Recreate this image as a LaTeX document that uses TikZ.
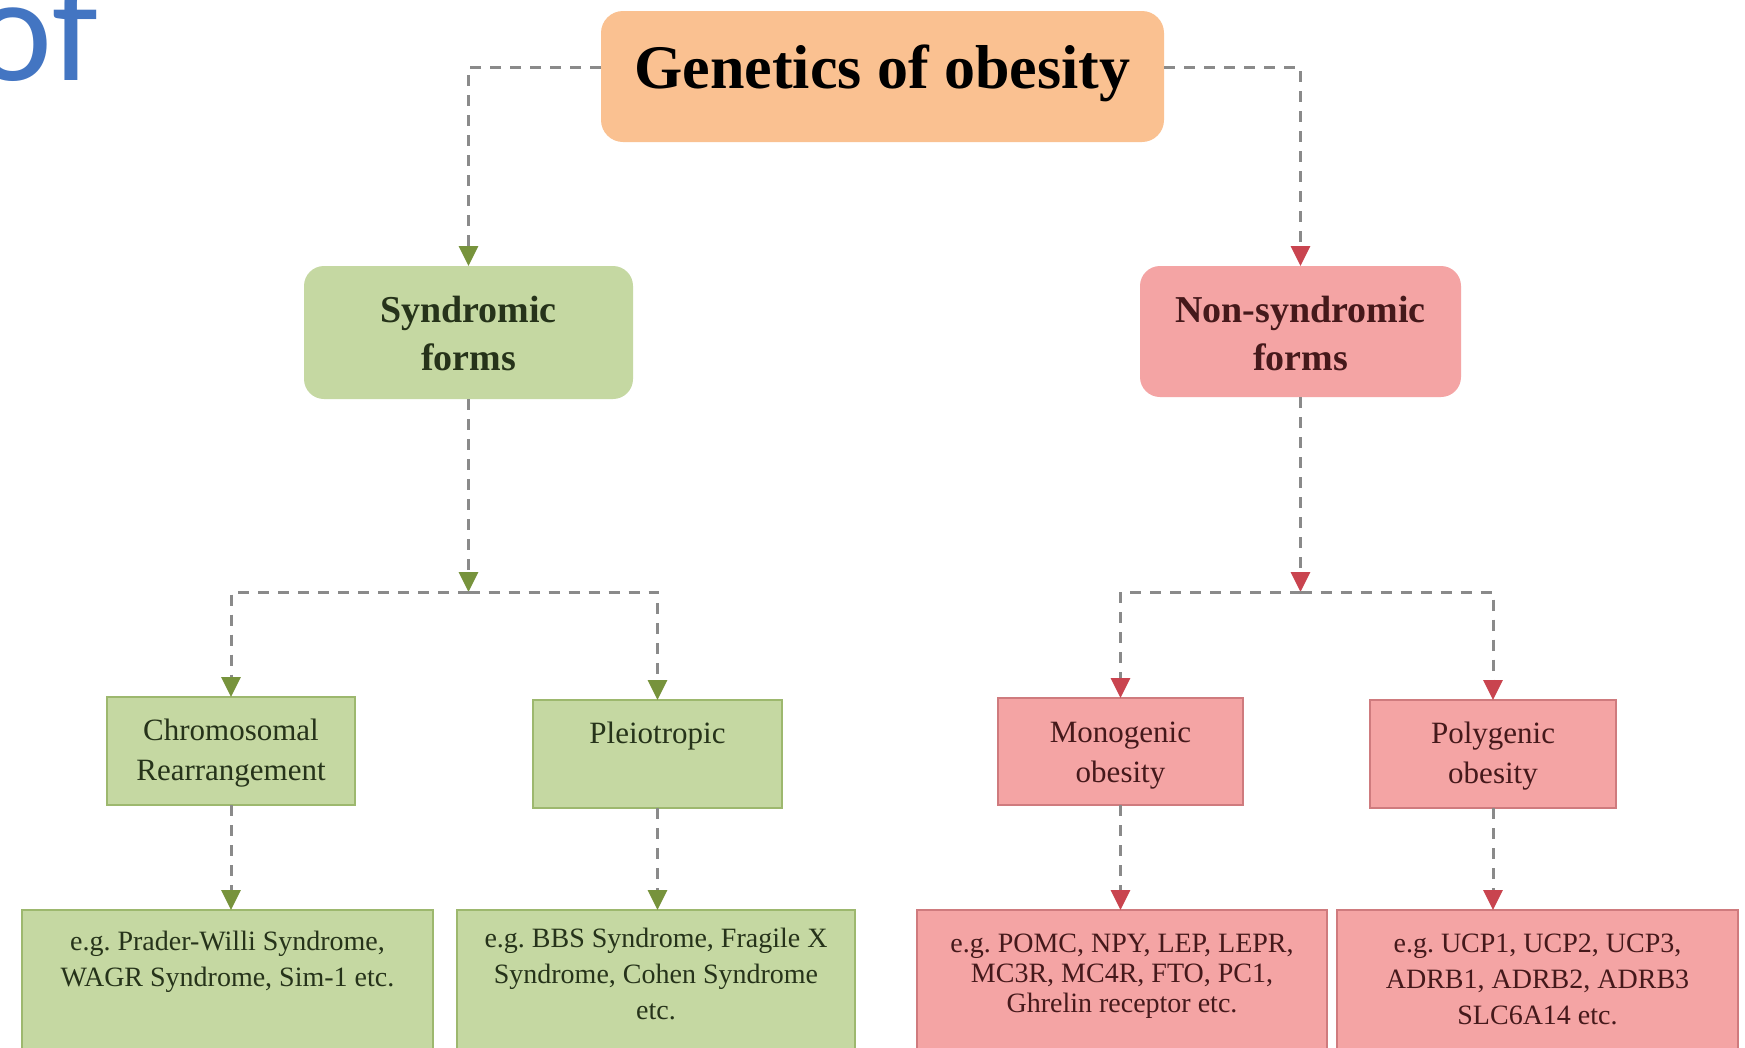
\documentclass[tikz,border=0pt]{standalone}
\usepackage{fontspec}
\setmainfont{Liberation Serif}
\newfontfamily\slidefont{Carlito}
\usetikzlibrary{arrows.meta}
\definecolor{peach}{HTML}{FAC191}
\definecolor{gfill}{HTML}{C5D8A2}
\definecolor{gline}{HTML}{9DB86E}
\definecolor{rfill}{HTML}{F4A4A4}
\definecolor{rline}{HTML}{CF7B7E}
\definecolor{ghead}{HTML}{77933C}
\definecolor{rhead}{HTML}{C9444F}
\definecolor{dgray}{HTML}{8A8A8A}
\definecolor{gtext}{HTML}{26331A}
\definecolor{rtext}{HTML}{45191B}
\definecolor{slideblue}{HTML}{4375C2}
\newcommand{\bxt}[4]{\parbox[t][#2][t]{#1}{\centering\rule{0pt}{#3}#4}}
\frenchspacing
\begin{document}
\begin{tikzpicture}[x=1pt,y=-1pt,
  every node/.style={inner sep=0pt, outer sep=0pt},
  titlebox/.style={fill=peach, rounded corners=22pt, anchor=north west, font=\bfseries\fontsize{62}{66}\selectfont, text=black},
  gr/.style={fill=gfill, rounded corners=20pt, anchor=north west, font=\bfseries\fontsize{38}{48}\selectfont, text=gtext},
  rr/.style={fill=rfill, rounded corners=20pt, anchor=north west, font=\bfseries\fontsize{38}{48}\selectfont, text=rtext},
  gs/.style={fill=gfill, draw=gline, line width=2pt, anchor=north west, font=\fontsize{31}{40}\selectfont, text=gtext},
  rs/.style={fill=rfill, draw=rline, line width=2pt, anchor=north west, font=\fontsize{31}{40}\selectfont, text=rtext},
  gb/.style={gs, font=\fontsize{28}{36}\selectfont},
  rb/.style={rs, font=\fontsize{28}{36}\selectfont},
  link/.style={draw=dgray, line width=3pt, dash pattern=on 11pt off 9pt},
  garr/.style={link, -{Triangle[length=20pt,width=19pt,color=ghead]}},
  rarr/.style={link, -{Triangle[length=20pt,width=19pt,color=rhead]}},
]
\useasboundingbox (0,0) rectangle (1745,1047);
\clip (0,0) rectangle (1745,1047);
\fill[white] (0,0) rectangle (1745,1047);

\node[anchor=base west, font=\slidefont\fontsize{150}{150}\selectfont, text=slideblue] (of) at (-27,80) {of};

\node[titlebox] (top) at (601,11) {\bxt{563pt}{131pt}{77pt}{Genetics of obesity}};

\node[gr] (syn) at (304,266) {\bxt{329pt}{133pt}{56pt}{Syndromic\\forms}};
\node[rr] (non) at (1140,266) {\bxt{321pt}{131pt}{56pt}{Non-syndromic\\forms}};

\node[gs] (chr) at (107,697) {\bxt{248pt}{108pt}{43pt}{Chromosomal\\Rearrangement}};
\node[gs] (ple) at (533,700) {\bxt{249pt}{108pt}{43pt}{Pleiotropic}};
\node[rs] (mon) at (998,698) {\bxt{245pt}{107pt}{44pt}{Monogenic\\obesity}};
\node[rs] (pol) at (1370,700) {\bxt{246pt}{108pt}{43pt}{Polygenic\\obesity}};

\node[gb] (b1) at (22,910) {\bxt{411pt}{160pt}{40pt}{e.g. Prader-Willi Syndrome,\\WAGR Syndrome, Sim-1 etc.}};
\node[gb] (b2) at (457,910) {\bxt{398pt}{160pt}{37pt}{e.g. BBS Syndrome, Fragile X\\Syndrome, Cohen Syndrome\\etc.}};
\node[rb, font=\fontsize{28}{30}\selectfont] (b3) at (917,910) {\bxt{410pt}{160pt}{42pt}{e.g. POMC, NPY, LEP, LEPR,\\MC3R, MC4R, FTO, PC1,\\Ghrelin receptor etc.}};
\node[rb] (b4) at (1337,910) {\bxt{401pt}{160pt}{42pt}{e.g. UCP1, UCP2, UCP3,\\ADRB1, ADRB2, ADRB3\\SLC6A14 etc.}};

\path (syn.south) ++(0,193) coordinate (j1);
\path (non.south) ++(0,195) coordinate (j2);

\draw[garr] ([yshift=9pt]top.west) -| (syn.north);
\draw[rarr] ([yshift=9pt]top.east) -| (non.north);

\draw[garr] (syn.south) -- (j1);
\draw[garr] (j1) -| (chr.north);
\draw[garr] (j1) -| (ple.north);
\draw[rarr] (non.south) -- (j2);
\draw[rarr] (j2) -| (mon.north);
\draw[rarr] (j2) -| (pol.north);

\draw[garr] (chr.south) -- (chr.south |- b1.north);
\draw[garr] (ple.south) -- (ple.south |- b2.north);
\draw[rarr] (mon.south) -- (mon.south |- b3.north);
\draw[rarr] (pol.south) -- (pol.south |- b4.north);
\end{tikzpicture}
\end{document}
